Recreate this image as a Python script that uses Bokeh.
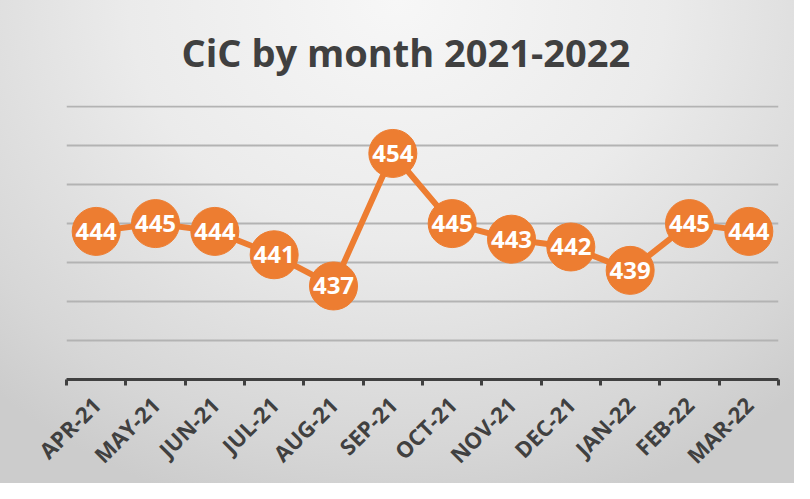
from bokeh.plotting import figure
from bokeh.models import ColumnDataSource, FixedTicker, Range1d
from bokeh.core.properties import value
from bokeh.embed import file_html
from bokeh.resources import INLINE
import math

months = ["APR-21", "MAY-21", "JUN-21", "JUL-21", "AUG-21", "SEP-21",
          "OCT-21", "NOV-21", "DEC-21", "JAN-22", "FEB-22", "MAR-22"]
cic = [444, 445, 444, 441, 437, 454, 445, 443, 442, 439, 445, 444]
y_ticks = [425, 430, 435, 440, 445, 450, 455, 460]
title_text = "CiC by month 2021-2022"

xpos = [i + 0.5 for i in range(len(months))]
src = ColumnDataSource(dict(x=xpos, y=cic, label=[str(v) for v in cic]))

p = figure(width=794, height=483, output_backend="svg", toolbar_location=None,
           x_range=Range1d(0, len(months)), y_range=Range1d(y_ticks[0], y_ticks[-1] + 0.15),
           min_border_left=66, min_border_right=16, min_border_top=105, min_border_bottom=104)
p.border_fill_color = None
p.background_fill_color = None
p.outline_line_color = None
p.styles = {"background-image": "radial-gradient(ellipse 75% 110% at 50% 0%, #f7f7f7 0%, #ebebeb 45%, #d6d6d6 85%, #cccccc 100%)"}

p.title.text = title_text
p.title.align = "left"
p.title.vertical_align = "top"
p.title.text_font = "Open Sans"
p.title.text_font_style = "bold"
p.title.text_font_size = "38px"
p.title.text_color = "#404040"
p.title.offset = 115
p.title.standoff = 51

p.yaxis.visible = False
p.xgrid.visible = False
p.ygrid.ticker = FixedTicker(ticks=y_ticks)
p.ygrid.grid_line_color = "#b3b3b3"
p.ygrid.grid_line_width = 2

ax = p.xaxis[0]
ax.ticker = FixedTicker(ticks=xpos, minor_ticks=list(range(len(months) + 1)))
ax.major_label_overrides = {x: m for x, m in zip(xpos, months)}
ax.major_label_orientation = math.pi / 4
ax.major_tick_line_color = None
ax.major_tick_out = 0
ax.major_tick_in = 0
ax.minor_tick_line_color = "#404040"
ax.minor_tick_line_width = 3
ax.minor_tick_out = 6
ax.minor_tick_in = 0
ax.axis_line_color = "#404040"
ax.axis_line_width = 3
ax.major_label_standoff = 15
ax.major_label_text_font = "Open Sans"
ax.major_label_text_font_style = "bold"
ax.major_label_text_font_size = "22px"
ax.major_label_text_color = "#404040"

p.line("x", "y", source=src, line_color="#ED7D31", line_width=6)
p.scatter("x", "y", source=src, size=48, fill_color="#ED7D31", line_color="#ED7D31")
p.text("x", "y", text="label", source=src, text_color="white",
       text_font=value("Open Sans"), text_font_style="bold", text_font_size="24px",
       text_align="center", text_baseline="middle")

open("out.html", "w").write(file_html(p, INLINE))
